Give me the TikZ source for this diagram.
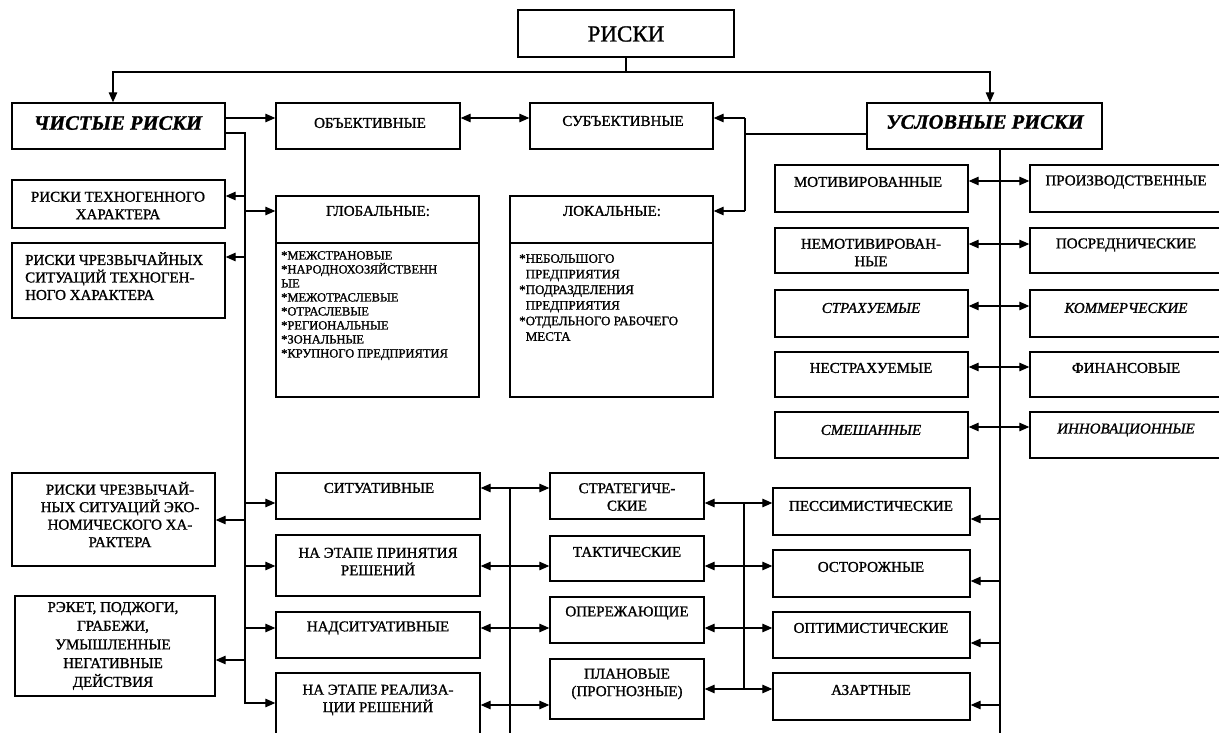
\documentclass[tikz,border=0pt]{standalone}
\usepackage{fontspec}
\setmainfont{Liberation Serif}[FakeBold=1.2]
\usetikzlibrary{arrows.meta,fit}
\newcommand\Bx[5]{\node[box, fit={(#2,#3) (#4,#5)}] (#1) {};}
\begin{document}
\begin{tikzpicture}[x=1pt,y=-1pt,
  >={Triangle[length=10pt,width=8.5pt]},
  box/.style={draw, line width=1.3pt, inner sep=0pt},
  ln/.style={line width=1.2pt},
  trunk/.style={line width=1.7pt},
  arr/.style={ln,->},
  darr/.style={ln,<->},
  tx/.style={font=\fontsize{15}{17.5}\selectfont, align=center, inner sep=0pt},
  itx/.style={tx, font=\fontsize{15}{17.5}\selectfont\itshape},
  hd/.style={tx, font=\fontsize{20.5}{24}\selectfont\bfseries\itshape},
  lst/.style={font=\fontsize{12.5}{14}\selectfont, align=left, inner sep=0pt, anchor=north west},
  lst2/.style={font=\fontsize{13}{15.6}\selectfont, align=left, inner sep=0pt, anchor=north west}
]
\useasboundingbox (0,0) rectangle (1219,733);
\clip (0,0) rectangle (1219,733);

% ---------- boxes ----------
\Bx{riski}{518}{10}{734}{57}
\Bx{chist}{12}{103}{225}{149}
\Bx{obj}{276}{103}{460}{149}
\Bx{subj}{530}{103}{713}{149}
\Bx{uslov}{867}{103}{1102}{149}
\Bx{tech}{12}{180}{225}{228}
\Bx{chrt}{12}{243}{225}{318}
\Bx{glob}{276}{196}{479}{397}
\Bx{lok}{510}{196}{713}{397}
\Bx{motiv}{775}{165}{968}{212}
\Bx{proizv}{1030}{165}{1224}{212}
\Bx{nemot}{775}{228}{968}{273}
\Bx{posr}{1030}{228}{1224}{273}
\Bx{strah}{775}{290}{968}{337}
\Bx{komm}{1030}{290}{1224}{337}
\Bx{nestr}{775}{352}{968}{397}
\Bx{fin}{1030}{352}{1224}{397}
\Bx{smesh}{775}{412}{968}{458}
\Bx{innov}{1030}{412}{1224}{458}
\Bx{chre}{12}{473}{215}{566}
\Bx{reket}{15}{596}{215}{696}
\Bx{sit}{276}{473}{480}{519}
\Bx{prin}{276}{535}{480}{596}
\Bx{nad}{276}{612}{480}{658}
\Bx{real}{276}{673}{480}{745}
\Bx{strat}{550}{473}{704}{519}
\Bx{takt}{550}{536}{704}{581}
\Bx{oper}{550}{597}{704}{643}
\Bx{plan}{550}{659}{704}{719}
\Bx{pess}{773}{488}{970}{535}
\Bx{ostor}{773}{550}{970}{597}
\Bx{optim}{773}{612}{970}{658}
\Bx{azart}{773}{673}{970}{720}

% header dividers
\draw[ln] (glob.west |- 0,243) -- (glob.east |- 0,243);
\draw[ln] (lok.west |- 0,243) -- (lok.east |- 0,243);

% ---------- texts ----------
\node[tx, font=\fontsize{23}{26}\selectfont] (t-riski) at (626,34) {РИСКИ};
\node[hd] (t-chist) at (118,123) {ЧИСТЫЕ РИСКИ};
\node[tx] (t-obj) at (370,123) {ОБЪЕКТИВНЫЕ};
\node[tx] (t-subj) at (623,121) {СУБЪЕКТИВНЫЕ};
\node[hd] (t-uslov) at (985,122) {УСЛОВНЫЕ РИСКИ};
\node[tx] (t-tech) at (118,205.5) {РИСКИ ТЕХНОГЕННОГО\\ХАРАКТЕРА};
\node[tx, align=left, anchor=north west] (t-chrt) at (25,252) {РИСКИ ЧРЕЗВЫЧАЙНЫХ\\СИТУАЦИЙ ТЕХНОГЕН-\\НОГО ХАРАКТЕРА};
\node[tx] (t-glob) at (378,211) {ГЛОБАЛЬНЫЕ:};
\node[tx] (t-lok) at (612,211) {ЛОКАЛЬНЫЕ:};
\node[lst] (l-glob) at (281,251) {*МЕЖСТРАНОВЫЕ\\*НАРОДНОХОЗЯЙСТВЕНН\\ЫЕ\\*МЕЖОТРАСЛЕВЫЕ\\*ОТРАСЛЕВЫЕ\\*РЕГИОНАЛЬНЫЕ\\*ЗОНАЛЬНЫЕ\\*КРУПНОГО ПРЕДПРИЯТИЯ};
\node[lst2] (l-lok) at (519,254) {*НЕБОЛЬШОГО\\\phantom{*}ПРЕДПРИЯТИЯ\\*ПОДРАЗДЕЛЕНИЯ\\\phantom{*}ПРЕДПРИЯТИЯ\\*ОТДЕЛЬНОГО РАБОЧЕГО\\\phantom{*}МЕСТА};
\node[tx] (t-motiv) at (868,182) {МОТИВИРОВАННЫЕ};
\node[tx] (t-proizv) at (1126,182) {ПРОИЗВОДСТВЕННЫЕ};
\node[tx] (t-nemot) at (871,252.5) {НЕМОТИВИРОВАН-\\НЫЕ};
\node[tx] (t-posr) at (1126,245) {ПОСРЕДНИЧЕСКИЕ};
\node[itx] (t-strah) at (871,308) {СТРАХУЕМЫЕ};
\node[itx] (t-komm) at (1126,308) {КОММЕРЧЕСКИЕ};
\node[tx] (t-nestr) at (871,368) {НЕСТРАХУЕМЫЕ};
\node[tx] (t-fin) at (1126,368) {ФИНАНСОВЫЕ};
\node[itx] (t-smesh) at (871,430) {СМЕШАННЫЕ};
\node[itx] (t-innov) at (1126,430) {ИННОВАЦИОННЫЕ};
\node[tx] (t-chre) at (120,514.5) {РИСКИ ЧРЕЗВЫЧАЙ-\\НЫХ СИТУАЦИЙ ЭКО-\\НОМИЧЕСКОГО ХА-\\РАКТЕРА};
\node[tx, font=\fontsize{15}{18.7}\selectfont] (t-reket) at (113,646) {РЭКЕТ, ПОДЖОГИ,\\ГРАБЕЖИ,\\УМЫШЛЕННЫЕ\\НЕГАТИВНЫЕ\\ДЕЙСТВИЯ};
\node[tx] (t-sit) at (379,488) {СИТУАТИВНЫЕ};
\node[tx] (t-prin) at (378,561.5) {НА ЭТАПЕ ПРИНЯТИЯ\\РЕШЕНИЙ};
\node[tx] (t-nad) at (378,628) {НАДСИТУАТИВНЫЕ};
\node[tx] (t-real) at (378,700) {НА ЭТАПЕ РЕАЛИЗА-\\ЦИИ РЕШЕНИЙ};
\node[tx] (t-strat) at (627,497) {СТРАТЕГИЧЕ-\\СКИЕ};
\node[tx] (t-takt) at (627,552) {ТАКТИЧЕСКИЕ};
\node[tx] (t-oper) at (627,613) {ОПЕРЕЖАЮЩИЕ};
\node[tx] (t-plan) at (627,684) {ПЛАНОВЫЕ\\(ПРОГНОЗНЫЕ)};
\node[tx] (t-pess) at (871,506) {ПЕССИМИСТИЧЕСКИЕ};
\node[tx] (t-ostor) at (871,567) {ОСТОРОЖНЫЕ};
\node[tx] (t-optim) at (871,628) {ОПТИМИСТИЧЕСКИЕ};
\node[tx] (t-azart) at (871,690) {АЗАРТНЫЕ};

% ---------- connectors ----------
% top
\coordinate (hub) at (riski.south |- 0,72);
\draw[ln] (riski.south) -- (hub);
\draw[arr] (hub) -| ([xshift=-5.5pt]chist.north);
\draw[arr] (hub) -| ([xshift=5.5pt]uslov.north);

% objective / subjective
\draw[arr] (chist.east |- 0,118) -- (obj.west |- 0,118);
\draw[darr] (obj.east |- 0,118) -- (subj.west |- 0,118);
\coordinate (rv1) at (745,118);
\coordinate (rv2) at (745,211);
\draw[ln] (uslov.west |- 0,134) -- (rv1 |- 0,134);
\draw[ln] (rv1) -- (rv2);
\draw[arr] (rv1) -- (subj.east |- rv1);
\draw[arr] (rv2) -- (lok.east |- rv2);

% left trunk
\coordinate (lt0) at (245,133);
\draw[arr] (chist.east |- lt0) -- (lt0) |- (real.west |- 0,703);
\draw[arr] (lt0 |- 0,196) -- (tech.east |- 0,196);
\draw[arr] (lt0 |- 0,257) -- (chrt.east |- 0,257);
\draw[arr] (lt0 |- 0,520) -- (chre.east |- 0,520);
\draw[arr] (lt0 |- 0,660) -- (reket.east |- 0,660);
\draw[arr] (lt0 |- 0,211) -- (glob.west |- 0,211);
\draw[arr] (lt0 |- 0,503) -- (sit.west |- 0,503);
\draw[arr] (lt0 |- 0,566) -- (prin.west |- 0,566);
\draw[arr] (lt0 |- 0,628) -- (nad.west |- 0,628);

% middle trunk
\coordinate (mt0) at (510,488);
\coordinate (mt1) at (510,740);
\draw[trunk] (mt0) -- (mt1);
\draw[darr] (sit.east |- mt0) -- (strat.west |- mt0);
\draw[darr] (prin.east |- 0,566) -- (takt.west |- 0,566);
\draw[darr] (nad.east |- 0,628) -- (oper.west |- 0,628);
\draw[darr] (real.east |- 0,705) -- (plan.west |- 0,705);

% second middle trunk
\coordinate (st0) at (744,503);
\coordinate (st1) at (744,689);
\draw[trunk] (st0) -- (st1);
\draw[darr] (strat.east |- st0) -- (pess.west |- st0);
\draw[darr] (takt.east |- 0,566) -- (ostor.west |- 0,566);
\draw[darr] (oper.east |- 0,628) -- (optim.west |- 0,628);
\draw[darr] (plan.east |- st1) -- (azart.west |- st1);

% right trunk
\coordinate (rt0) at (1000,149);
\coordinate (rt1) at (1000,740);
\draw[trunk] (uslov.south -| rt0) -- (rt1);
\draw[darr] (motiv.east |- 0,181) -- (proizv.west |- 0,181);
\draw[darr] (nemot.east |- 0,244) -- (posr.west |- 0,244);
\draw[darr] (strah.east |- 0,306) -- (komm.west |- 0,306);
\draw[darr] (nestr.east |- 0,367) -- (fin.west |- 0,367);
\draw[darr] (smesh.east |- 0,427) -- (innov.west |- 0,427);
\draw[arr] (rt0 |- 0,519) -- (pess.east |- 0,519);
\draw[arr] (rt0 |- 0,581) -- (ostor.east |- 0,581);
\draw[arr] (rt0 |- 0,643) -- (optim.east |- 0,643);
\draw[arr] (rt0 |- 0,705) -- (azart.east |- 0,705);
\end{tikzpicture}
\end{document}
